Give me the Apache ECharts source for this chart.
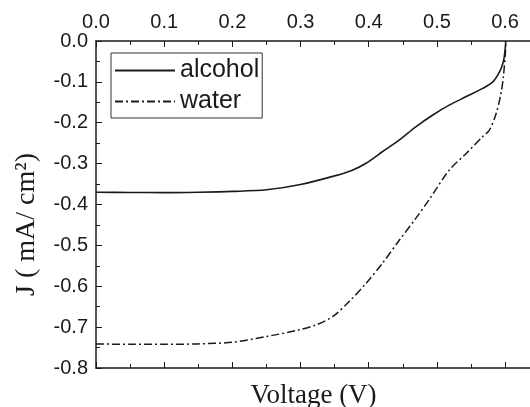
<!DOCTYPE html>
<html>
<head>
<meta charset="utf-8">
<script src="https://cdn.jsdelivr.net/npm/echarts@6/dist/echarts.min.js"></script>
<style>
  html, body { margin: 0; padding: 0; background: #fff; }
  #main { width: 530px; height: 407px; }
</style>
</head>
<body>
<div id="main"></div>
<script>
// J-V curves
const alcoholV = [0, 0.05, 0.1, 0.15, 0.2, 0.25, 0.3, 0.35, 0.376, 0.396, 0.42, 0.445, 0.469, 0.494, 0.518, 0.543, 0.567, 0.582, 0.592, 0.5975, 0.6, 0.601]
const alcoholJ = [-0.370, -0.3705, -0.371, -0.370, -0.368, -0.364, -0.351, -0.330, -0.316, -0.299, -0.271, -0.242, -0.210, -0.181, -0.157, -0.136, -0.116, -0.100, -0.075, -0.050, -0.022, 0]
const waterV = [0, 0.05, 0.1, 0.15, 0.2, 0.25, 0.2975, 0.322, 0.347, 0.371, 0.396, 0.42, 0.445, 0.469, 0.489, 0.518, 0.543, 0.567, 0.577, 0.587, 0.594, 0.5975, 0.6004, 0.601]
const waterJ = [-0.741, -0.742, -0.742, -0.741, -0.737, -0.723, -0.707, -0.695, -0.6745, -0.638, -0.593, -0.544, -0.487, -0.434, -0.387, -0.316, -0.275, -0.234, -0.218, -0.177, -0.128, -0.087, -0.030, 0]

const zip = (xs, ys) => xs.map((x, i) => [x, ys[i]])

const ink = '#1a1a1a'
const tickFont = { fontFamily: 'Liberation Sans', fontSize: 20, color: ink }

const myChart = echarts.init(document.getElementById('main'))
myChart.setOption({
  animation: false,
  grid: { left: 96, top: 41, right: -1, bottom: 39, containLabel: false, outerBoundsMode: 'none' },
  legend: {
    orient: 'vertical',
    left: 111,
    top: 53,
    padding: [5, 3, 4, 3],
    itemWidth: 60,
    itemHeight: 14,
    itemGap: 6,
    borderColor: '#333',
    borderWidth: 1,
    itemStyle: { opacity: 0 },
    textStyle: { fontFamily: 'Liberation Sans', fontSize: 25, color: ink },
    data: ['alcohol', 'water']
  },
  xAxis: [
    {
      type: 'value',
      position: 'top',
      min: 0,
      max: 0.638,
      interval: 0.1,
      axisLine: { lineStyle: { color: ink, width: 1.5 } },
      axisTick: { inside: true, length: 6, lineStyle: { color: ink } },
      minorTick: { show: true, splitNumber: 2, length: 4, lineStyle: { color: ink } },
      axisLabel: { ...tickFont, margin: 9, showMaxLabel: false, formatter: v => v.toFixed(1) },
      splitLine: { show: false }
    },
    {
      type: 'value',
      position: 'bottom',
      min: 0,
      max: 0.638,
      interval: 0.1,
      name: 'Voltage (V)',
      nameLocation: 'middle',
      nameGap: 14,
      nameTextStyle: { fontFamily: 'Liberation Serif', fontSize: 27, color: ink, verticalAlign: 'top' },
      axisLine: { lineStyle: { color: ink, width: 1.5 } },
      axisTick: { inside: true, length: 6, lineStyle: { color: ink } },
      minorTick: { show: true, splitNumber: 2, length: 4, lineStyle: { color: ink } },
      axisLabel: { show: false },
      splitLine: { show: false }
    }
  ],
  yAxis: {
    type: 'value',
    min: -0.8,
    max: 0,
    interval: 0.1,
    name: 'J ( mA/ cm²)',
    nameLocation: 'middle',
    nameGap: 55,
    nameTextStyle: { fontFamily: 'Liberation Serif', fontSize: 28, color: ink, padding: [0, 40, 0, 0] },
    axisLine: { lineStyle: { color: ink, width: 1.5 } },
    axisTick: { inside: true, length: 6, lineStyle: { color: ink } },
    minorTick: { show: true, splitNumber: 2, length: 4, lineStyle: { color: ink } },
    axisLabel: { ...tickFont, margin: 8, formatter: v => v.toFixed(1) },
    splitLine: { show: false }
  },
  series: [
    {
      name: 'alcohol',
      type: 'line',
      xAxisIndex: 0,
      symbol: 'none',
      smooth: 0.3,
      lineStyle: { color: ink, width: 1.6 },
      itemStyle: { color: ink },
      data: zip(alcoholV, alcoholJ)
    },
    {
      name: 'water',
      type: 'line',
      xAxisIndex: 0,
      symbol: 'none',
      smooth: 0.3,
      lineStyle: { color: ink, width: 1.5, type: [8, 3, 2, 3] },
      itemStyle: { color: ink },
      data: zip(waterV, waterJ)
    }
  ]
})
</script>
</body>
</html>
